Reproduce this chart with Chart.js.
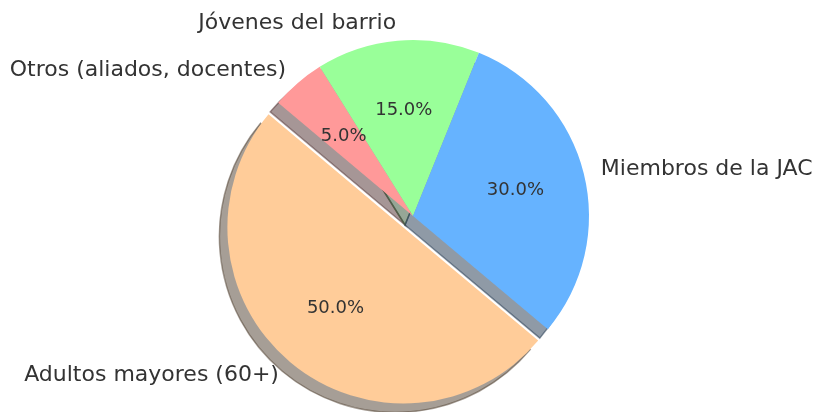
<!DOCTYPE html>
<html>
<head>
<meta charset="utf-8">
<script src="https://cdn.jsdelivr.net/npm/chart.js@4.4.1/dist/chart.umd.min.js"></script>
<style>
  body { margin: 0; background: #fff; }
</style>
</head>
<body>
<canvas id="myChart" width="818" height="412"></canvas>
<script>
'use strict';
// slices in the order they are drawn (clockwise)
let categories = ['Otros (aliados, docentes)', 'Jóvenes del barrio', 'Miembros de la JAC', 'Adultos mayores (60+)'];
let shares = [5, 15, 30, 50];
let sliceColors = ['#ff9999', '#99ff99', '#66b3ff', '#ffcc99'];
// explode as fraction of radius
let explode = [0, 0, 0, 0.085];

let textColor = '#333333';
let shadowShift = { x: -8, y: 9 };

let total = shares.reduce((a, b) => a + b, 0);

function shadowOf(hex) {
    let r = parseInt(hex.slice(1, 3), 16);
    let g = parseInt(hex.slice(3, 5), 16);
    let b = parseInt(hex.slice(5, 7), 16);
    return 'rgba(' + Math.round(r * 0.3) + ',' + Math.round(g * 0.3) + ',' + Math.round(b * 0.3) + ',0.5)';
}

// move exploded slices outward along their middle angle
let explodePlugin = {
    id: 'explode',
    afterDatasetsUpdate(chart) {
        let arcs = chart.getDatasetMeta(0).data;
        arcs.forEach((arc, i) => {
            if (!explode[i]) return;
            let mid = (arc.startAngle + arc.endAngle) / 2;
            let d = explode[i] * arc.outerRadius;
            arc.x += Math.cos(mid) * d;
            arc.y += Math.sin(mid) * d;
        });
    }
};

// grey shadows under all wedges, like matplotlib shadow=True
let shadowPlugin = {
    id: 'pieShadow',
    beforeDatasetsDraw(chart) {
        let ctx = chart.ctx;
        let arcs = chart.getDatasetMeta(0).data;
        ctx.save();
        arcs.forEach((arc, i) => {
            let x = arc.x + shadowShift.x;
            let y = arc.y + shadowShift.y;
            ctx.beginPath();
            ctx.moveTo(x, y);
            ctx.arc(x, y, arc.outerRadius, arc.startAngle, arc.endAngle);
            ctx.closePath();
            ctx.fillStyle = shadowOf(sliceColors[i]);
            ctx.fill();
            ctx.strokeStyle = shadowOf(sliceColors[i]);
            ctx.lineWidth = 1.5;
            ctx.stroke();
        });
        ctx.restore();
    }
};

// outside labels and percentages inside
let labelPlugin = {
    id: 'pieLabels',
    afterDatasetsDraw(chart) {
        let ctx = chart.ctx;
        let arcs = chart.getDatasetMeta(0).data;
        ctx.save();
        ctx.fillStyle = textColor;
        ctx.textBaseline = 'middle';
        arcs.forEach((arc, i) => {
            let mid = (arc.startAngle + arc.endAngle) / 2;
            let r = arc.outerRadius;
            let c = Math.cos(mid), s = Math.sin(mid);

            ctx.font = '22px "DejaVu Sans"';
            ctx.textAlign = c > 0 ? 'left' : 'right';
            ctx.fillText(categories[i], arc.x + c * r * 1.1, arc.y + s * r * 1.1);

            ctx.font = '18px "DejaVu Sans"';
            ctx.textAlign = 'center';
            let pct = (shares[i] / total * 100).toFixed(1) + '%';
            ctx.fillText(pct, arc.x + c * r * 0.6, arc.y + s * r * 0.6);
        });
        ctx.restore();
    }
};

let ctx = document.getElementById('myChart').getContext('2d');
let myChart = new Chart(ctx, {
    type: 'pie',
    data: {
        labels: categories,
        datasets: [{
            data: shares,
            backgroundColor: sliceColors,
            borderWidth: 0,
            radius: 176
        }]
    },
    options: {
        responsive: false,
        animation: false,
        events: [],
        rotation: -50,
        layout: {
            padding: { left: 8, right: 0, top: 20, bottom: 0 }
        },
        plugins: {
            legend: { display: false },
            tooltip: { enabled: false }
        }
    },
    plugins: [explodePlugin, shadowPlugin, labelPlugin]
});
</script>
</body>
</html>
